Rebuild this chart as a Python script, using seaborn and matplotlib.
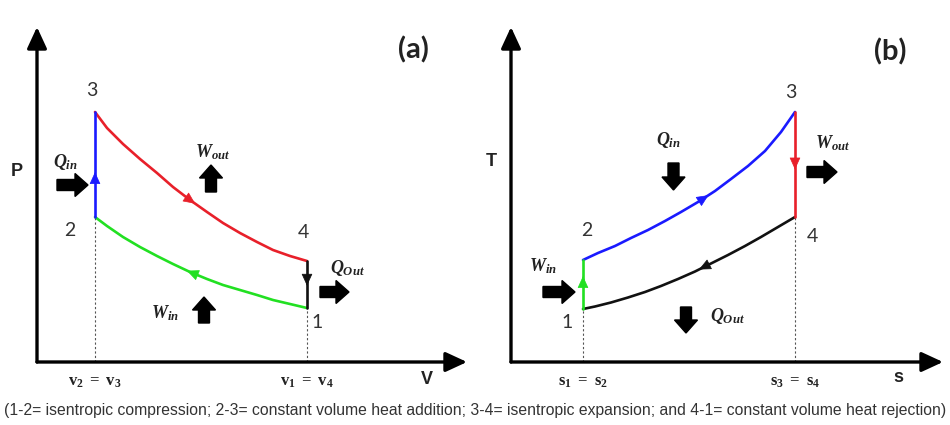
import matplotlib

matplotlib.use("Agg")
import matplotlib.pyplot as plt
import numpy as np
import seaborn as sns


# State-path samples (panel units: 10 px per unit)
# (a) P-V diagram
V_EXPANSION = [5.8, 7.0, 8.6, 10.3, 12.0, 13.6, 15.3, 17.0, 18.6, 20.3, 22.0, 23.6, 25.3, 27.0]  # 3 -> 4
P_EXPANSION = [25.0, 23.4, 21.8, 20.3, 18.9, 17.5, 16.2, 15.0, 13.9, 12.9, 12.0, 11.2, 10.6, 10.1]
V_COMPRESSION = [27.0, 25.3, 23.6, 22.0, 20.3, 18.6, 17.0, 15.3, 13.6, 12.0, 10.3, 8.6, 7.0, 5.8]  # 1 -> 2
P_COMPRESSION = [5.4, 5.8, 6.2, 6.7, 7.2, 7.7, 8.3, 9.0, 9.8, 10.6, 11.5, 12.5, 13.6, 14.5]
V_HEAT_ADD = [5.8, 5.8]                                     # 2 -> 3
P_HEAT_ADD = [14.5, 25.0]
V_HEAT_REJ = [27.0, 27.0]                                   # 4 -> 1
P_HEAT_REJ = [10.1, 5.4]

# (b) T-s diagram
S_COMPRESSION = [7.2, 7.2]                                  # 1 -> 2
T_COMPRESSION = [5.3, 10.2]
S_HEAT_ADD = [7.2, 8.7, 10.4, 12.0, 13.7, 15.4, 17.0, 18.7, 20.4, 22.0, 23.7, 25.4, 27.0, 28.4]  # 2 -> 3
T_HEAT_ADD = [10.2, 10.9, 11.6, 12.4, 13.2, 14.1, 15.0, 16.0, 17.1, 18.3, 19.6, 21.1, 23.0, 25.0]
S_EXPANSION = [28.4, 28.4]                                  # 3 -> 4
T_EXPANSION = [25.0, 14.5]
S_HEAT_REJ = [28.4, 26.7, 25.0, 23.4, 21.7, 20.0, 18.4, 16.7, 15.0, 13.4, 11.7, 10.0, 8.4, 7.2]  # 4 -> 1
T_HEAT_REJ = [14.5, 13.5, 12.5, 11.6, 10.7, 9.85, 9.05, 8.3, 7.6, 7.0, 6.45, 5.95, 5.55, 5.3]

V_TICKS = [5.8, 27.0]
V_TICK_LABELS = [r"$\mathrm{v_2\ =\ v_3}$", r"$\mathrm{v_1\ =\ v_4}$"]
S_TICKS = [7.2, 28.4]
S_TICK_LABELS = [r"$\mathrm{s_1\ =\ s_2}$", r"$\mathrm{s_3\ =\ s_4}$"]

CAPTION = ("(1-2= isentropic compression; 2-3= constant volume heat addition; "
           "3-4= isentropic expansion; and 4-1= constant volume heat rejection)")

RED = "#e8202a"
GREEN = "#22e022"
BLUE = "#1a1aff"
BLACK = "#111111"


def add_flow_arrow(ax, xs, ys, frac, color):
    xs = np.asarray(xs, dtype=float)
    ys = np.asarray(ys, dtype=float)
    seg = np.hypot(np.diff(xs), np.diff(ys))
    cum = np.concatenate([[0], np.cumsum(seg)])
    target = frac * cum[-1]
    i = min(np.searchsorted(cum, target, side="right") - 1, len(seg) - 1)
    t = (target - cum[i]) / seg[i]
    px = xs[i] + t * (xs[i + 1] - xs[i])
    py = ys[i] + t * (ys[i + 1] - ys[i])
    ux = (xs[i + 1] - xs[i]) / seg[i]
    uy = (ys[i + 1] - ys[i]) / seg[i]
    ax.annotate("", xy=(px + 0.5 * ux, py + 0.5 * uy), xytext=(px - 0.5 * ux, py - 0.5 * uy),
                arrowprops=dict(arrowstyle="-|>,head_length=0.55,head_width=0.25",
                                color=color, lw=0.5, mutation_scale=14,
                                shrinkA=0, shrinkB=0))


def block_arrow(ax, x, y, dx, dy):
    ax.arrow(x, y, dx, dy, width=1.1, head_width=2.3, head_length=1.3,
             length_includes_head=True, fc="black", ec="black")


def setup_axes(ax, xmax, ymax):
    ax.set_xlim(0, xmax)
    ax.set_ylim(0, ymax)
    for sp in ax.spines.values():
        sp.set_visible(False)
    ax.set_yticks([])
    style = "-|>,head_length=0.65,head_width=0.3"
    ax.annotate("", xy=(1, 0), xytext=(0, 0), xycoords="axes fraction",
                arrowprops=dict(arrowstyle=style, lw=2.4, color="black",
                                mutation_scale=20, shrinkA=0, shrinkB=0))
    ax.annotate("", xy=(0, 1), xytext=(0, 0), xycoords="axes fraction",
                arrowprops=dict(arrowstyle=style, lw=2.4, color="black",
                                mutation_scale=20, shrinkA=0, shrinkB=0))
    ax.tick_params(axis="x", length=0, pad=9, labelsize=12, labelcolor="#222222")


def draw_path(ax, xs, ys, color):
    sns.lineplot(x=xs, y=ys, sort=False, estimator=None, color=color,
                 lw=1.9, ax=ax, legend=False)


def main():
    sns.set_theme(style="white")
    plt.rcParams["font.family"] = ["Lato", "DejaVu Sans"]
    plt.rcParams["mathtext.fontset"] = "custom"
    plt.rcParams["mathtext.it"] = "Liberation Serif:italic:bold"
    plt.rcParams["mathtext.rm"] = "Liberation Serif:bold"

    fig = plt.figure(figsize=(9.5, 4.25), dpi=100)
    ax_a = fig.add_axes([37 / 950, 63 / 425, 430 / 950, 335 / 425])
    ax_b = fig.add_axes([511 / 950, 63 / 425, 432 / 950, 335 / 425])

    num_kw = dict(fontsize=14, color="#333333", ha="center", va="center")
    axis_kw = dict(fontsize=13, fontweight="bold", family="Liberation Sans",
                   color="#222222", ha="center", va="center", clip_on=False)
    q_kw = dict(fontsize=13, color="#222222", ha="center", va="center")
    tag_kw = dict(fontsize=21, fontweight="bold", color="#222222",
                  ha="center", va="center")

    # ---- (a) P-V ----
    setup_axes(ax_a, 43.0, 33.5)
    ax_a.vlines(V_TICKS, 0, [P_HEAT_ADD[0], P_HEAT_REJ[1]], colors="#555555",
                linestyles=(0, (2, 2)), lw=0.8)
    draw_path(ax_a, V_EXPANSION, P_EXPANSION, RED)
    draw_path(ax_a, V_COMPRESSION, P_COMPRESSION, GREEN)
    draw_path(ax_a, V_HEAT_ADD, P_HEAT_ADD, BLUE)
    draw_path(ax_a, V_HEAT_REJ, P_HEAT_REJ, BLACK)
    add_flow_arrow(ax_a, V_EXPANSION, P_EXPANSION, 0.5, RED)
    add_flow_arrow(ax_a, V_COMPRESSION, P_COMPRESSION, 0.52, GREEN)
    add_flow_arrow(ax_a, V_HEAT_ADD, P_HEAT_ADD, 0.38, BLUE)
    add_flow_arrow(ax_a, V_HEAT_REJ, P_HEAT_REJ, 0.42, BLACK)
    ax_a.set_xticks(V_TICKS, V_TICK_LABELS)

    ax_a.text(5.5, 27.2, "3", **num_kw)
    ax_a.text(3.3, 13.2, "2", **num_kw)
    ax_a.text(26.6, 12.9, "4", **num_kw)
    ax_a.text(28.0, 4.0, "1", **num_kw)
    ax_a.text(-2.0, 19.0, "P", **axis_kw)
    ax_a.text(39.0, -1.8, "V", **axis_kw)
    ax_a.text(37.6, 31.2, "(a)", **tag_kw)
    ax_a.text(2.8, 20.0, r"$Q_{in}$", **q_kw)
    ax_a.text(17.6, 21.0, r"$W_{out}$", **q_kw)
    ax_a.text(31.0, 9.4, r"$Q_{Out}$", **q_kw)
    ax_a.text(12.8, 4.9, r"$W_{in}$", **q_kw)
    block_arrow(ax_a, 2.0, 17.7, 3.1, 0)
    block_arrow(ax_a, 17.4, 17.0, 0, 2.7)
    block_arrow(ax_a, 28.3, 7.0, 2.9, 0)
    block_arrow(ax_a, 16.7, 3.9, 0, 2.6)

    # ---- (b) T-s ----
    setup_axes(ax_b, 43.2, 33.5)
    ax_b.vlines(S_TICKS, 0, [T_COMPRESSION[0], T_EXPANSION[1]], colors="#555555",
                linestyles=(0, (2, 2)), lw=0.8)
    draw_path(ax_b, S_HEAT_ADD, T_HEAT_ADD, BLUE)
    draw_path(ax_b, S_HEAT_REJ, T_HEAT_REJ, BLACK)
    draw_path(ax_b, S_COMPRESSION, T_COMPRESSION, GREEN)
    draw_path(ax_b, S_EXPANSION, T_EXPANSION, RED)
    add_flow_arrow(ax_b, S_HEAT_ADD, T_HEAT_ADD, 0.52, BLUE)
    add_flow_arrow(ax_b, S_HEAT_REJ, T_HEAT_REJ, 0.45, BLACK)
    add_flow_arrow(ax_b, S_COMPRESSION, T_COMPRESSION, 0.57, GREEN)
    add_flow_arrow(ax_b, S_EXPANSION, T_EXPANSION, 0.5, RED)
    ax_b.set_xticks(S_TICKS, S_TICK_LABELS)

    ax_b.text(7.6, 13.2, "2", **num_kw)
    ax_b.text(5.6, 4.0, "1", **num_kw)
    ax_b.text(28.0, 26.9, "3", **num_kw)
    ax_b.text(30.1, 12.6, "4", **num_kw)
    ax_b.text(-2.0, 20.0, "T", **axis_kw)
    ax_b.text(38.7, -1.6, "s", **axis_kw)
    ax_b.text(37.9, 31.0, "(b)", **tag_kw)
    ax_b.text(15.7, 22.2, r"$Q_{in}$", **q_kw)
    ax_b.text(32.2, 21.9, r"$W_{out}$", **q_kw)
    ax_b.text(3.2, 9.6, r"$W_{in}$", **q_kw)
    ax_b.text(21.6, 4.6, r"$Q_{Out}$", **q_kw)
    block_arrow(ax_b, 16.25, 19.9, 0, -2.7)
    block_arrow(ax_b, 29.6, 19.0, 3.0, 0)
    block_arrow(ax_b, 3.2, 7.0, 3.2, 0)
    block_arrow(ax_b, 17.5, 5.5, 0, -2.6)

    fig.text(0.5, 1 - 410 / 425, CAPTION, ha="center", va="center", fontsize=11.3,
             family="Liberation Sans", color="#333333")

    fig.savefig("out.png", dpi=100)
    plt.close(fig)


if __name__ == "__main__":
    main()
